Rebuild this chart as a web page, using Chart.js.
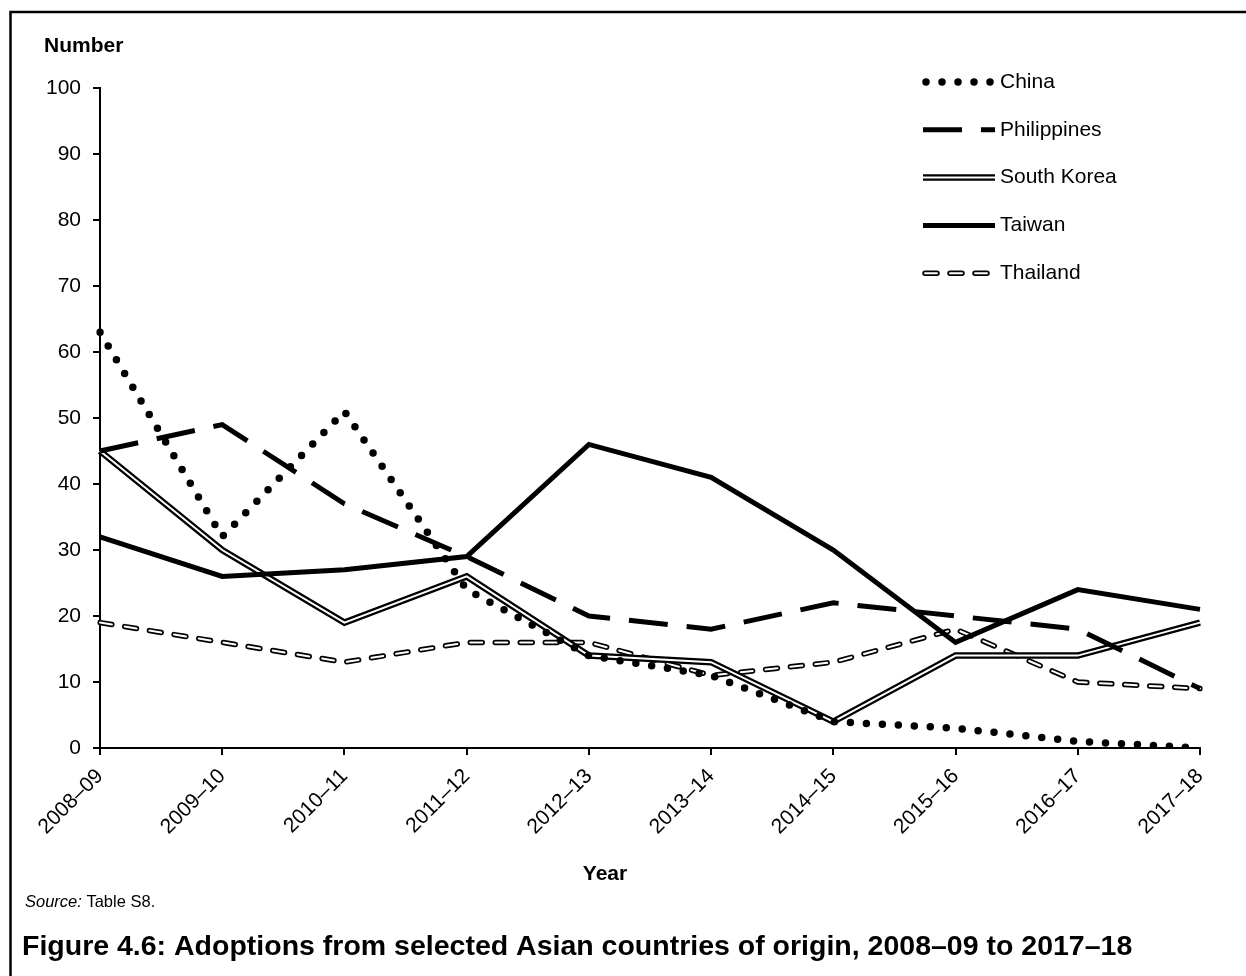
<!DOCTYPE html>
<html>
<head>
<meta charset="utf-8">
<script src="https://cdn.jsdelivr.net/npm/chart.js@4.4.0/dist/chart.umd.min.js"></script>
<style>
html,body{margin:0;padding:0;background:#fff;}
#wrap{width:1246px;height:976px;position:relative;}
canvas{display:block;}
</style>
</head>
<body>
<div id="wrap"><canvas id="c" width="1246" height="976"></canvas></div>
<script>
// ---- data ----
const categories = ['2008–09','2009–10','2010–11','2011–12','2012–13','2013–14','2014–15','2015–16','2016–17','2017–18'];
const china       = [63, 32, 51, 24, 14, 11, 4, 3, 1, 0];
const philippines = [45, 49, 37, 29, 20, 18, 22, 20, 18, 9];
const southKorea  = [45, 30, 19, 26, 14, 13, 4, 14, 14, 19];
const taiwan      = [32, 26, 27, 29, 46, 41, 30, 16, 24, 21];
const thailand    = [19, 16, 13, 16, 16, 11, 13, 18, 10, 9];
const yTicks = [0, 10, 20, 30, 40, 50, 60, 70, 80, 90, 100];
const legendNames = ['China', 'Philippines', 'South Korea', 'Taiwan', 'Thailand'];
const yTitle = 'Number';
const xTitle = 'Year';
const sourceLabel = 'Source:';
const sourceText = ' Table S8.';
const figureTitle = 'Figure 4.6: Adoptions from selected Asian countries of origin, 2008–09 to 2017–18';

const FONT = '"Liberation Sans", Arial, Helvetica, sans-serif';

const base = { pointRadius: 0, pointHoverRadius: 0, tension: 0, fill: false, borderJoinStyle: 'miter' };

const datasets = [
  Object.assign({}, base, { label: legendNames[0], data: china, borderColor: '#000', borderWidth: 7.5, borderDash: [0, 16], borderCapStyle: 'round', order: 0 }),
  Object.assign({}, base, { label: legendNames[1], data: philippines, borderColor: '#000', borderWidth: 5, borderDash: [39, 19], borderCapStyle: 'butt', order: 1 }),
  Object.assign({}, base, { label: legendNames[3], data: taiwan, borderColor: '#000', borderWidth: 5, borderCapStyle: 'butt', order: 2 }),
  Object.assign({}, base, { label: legendNames[2] + ' inner', data: southKorea, borderColor: '#fff', borderWidth: 2, borderCapStyle: 'butt', order: 3 }),
  Object.assign({}, base, { label: legendNames[2], data: southKorea, borderColor: '#000', borderWidth: 6.5, borderCapStyle: 'butt', order: 4 }),
  Object.assign({}, base, { label: legendNames[4] + ' inner', data: thailand, borderColor: '#fff', borderWidth: 2, borderDash: [12, 13], borderCapStyle: 'round', order: 5 }),
  Object.assign({}, base, { label: legendNames[4], data: thailand, borderColor: '#000', borderWidth: 5.5, borderDash: [12, 13], borderCapStyle: 'round', order: 6 })
];

// legend entries: name -> dataset indices drawn (bottom first)
const legendMap = [
  { name: legendNames[0], sets: [0], x0: 926 },
  { name: legendNames[1], sets: [1], x0: 923 },
  { name: legendNames[2], sets: [4, 3], x0: 923 },
  { name: legendNames[3], sets: [2], x0: 923 },
  { name: legendNames[4], sets: [6, 5], x0: 925 }
];

const annot = {
  id: 'annot',
  beforeDraw(chart) {
    const ctx = chart.ctx;
    ctx.save();
    ctx.fillStyle = '#fff';
    ctx.fillRect(0, 0, chart.width, chart.height);
    ctx.restore();
  },
  afterDraw(chart) {
    const ctx = chart.ctx;
    ctx.save();
    // frame
    ctx.strokeStyle = '#000';
    ctx.lineWidth = 2.5;
    ctx.setLineDash([]);
    ctx.beginPath();
    ctx.moveTo(10.5, 976);
    ctx.lineTo(10.5, 12);
    ctx.lineTo(1246, 12);
    ctx.stroke();

    ctx.fillStyle = '#000';
    ctx.textBaseline = 'middle';
    // y title
    ctx.font = 'bold 21px ' + FONT;
    ctx.textAlign = 'left';
    ctx.fillText(yTitle, 44, 46);
    // x title
    ctx.textAlign = 'center';
    ctx.fillText(xTitle, 605, 874);
    // source
    ctx.textAlign = 'left';
    ctx.font = 'italic 16.5px ' + FONT;
    ctx.fillText(sourceLabel, 25, 902);
    const w = ctx.measureText(sourceLabel).width;
    ctx.font = '16.5px ' + FONT;
    ctx.fillText(sourceText, 25 + w, 902);
    // figure title
    ctx.font = 'bold 28.5px ' + FONT;
    ctx.fillText(figureTitle, 22, 947);

    // legend
    const x1 = 995;
    legendMap.forEach((item, i) => {
      const y = 82 + i * 47.8;
      item.sets.forEach(k => {
        const ds = chart.data.datasets[k];
        ctx.save();
        ctx.strokeStyle = ds.borderColor;
        ctx.lineWidth = ds.borderWidth;
        ctx.lineCap = ds.borderCapStyle || 'butt';
        ctx.setLineDash(ds.borderDash || []);
        ctx.lineDashOffset = 0;
        ctx.beginPath();
        ctx.moveTo(item.x0, y);
        ctx.lineTo(x1, y);
        ctx.stroke();
        ctx.restore();
      });
      ctx.fillStyle = '#000';
      ctx.font = '21px ' + FONT;
      ctx.textAlign = 'left';
      ctx.textBaseline = 'middle';
      ctx.fillText(item.name, 1000, y);
    });
    ctx.restore();
  }
};

new Chart(document.getElementById('c'), {
  type: 'line',
  data: { labels: categories, datasets: datasets },
  options: {
    responsive: false,
    animation: false,
    devicePixelRatio: 1,
    events: [],
    layout: { padding: { left: 10, top: 88, right: 46, bottom: 0 } },
    plugins: { legend: { display: false }, tooltip: { enabled: false }, title: { display: false } },
    scales: {
      x: {
        type: 'category',
        offset: false,
        grid: { display: true, drawOnChartArea: false, drawTicks: true, tickLength: 7, color: '#000', lineWidth: 2 },
        border: { display: true, color: '#000', width: 2 },
        ticks: { color: '#000', font: { family: FONT, size: 21 }, maxRotation: 45, minRotation: 45, autoSkip: false, padding: 9 },
        afterFit(scale) { scale.height = 228; }
      },
      y: {
        min: 0, max: 100,
        afterBuildTicks(scale) { scale.ticks = yTicks.map(v => ({ value: v })); },
        grid: { display: true, drawOnChartArea: false, drawTicks: true, tickLength: 7, color: '#000', lineWidth: 2 },
        border: { display: true, color: '#000', width: 2 },
        ticks: { color: '#000', font: { family: FONT, size: 21 }, padding: 12 },
        afterFit(scale) { scale.width = 90; }
      }
    }
  },
  plugins: [annot]
});
</script>
</body>
</html>
